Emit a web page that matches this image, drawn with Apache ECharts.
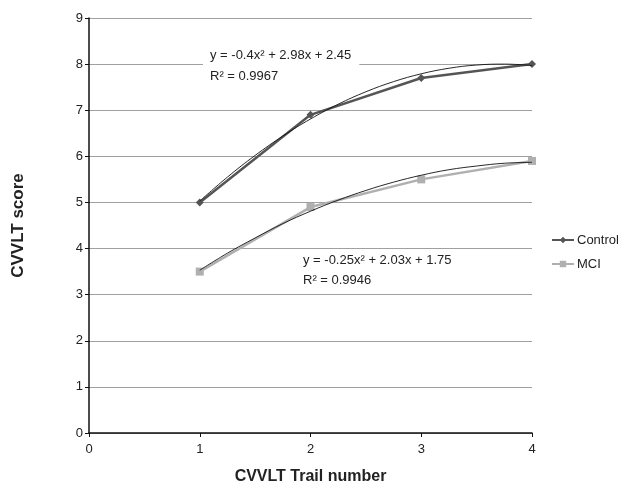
<!DOCTYPE html>
<html>
<head>
<meta charset="utf-8">
<script src="https://cdn.jsdelivr.net/npm/echarts@6/dist/echarts.min.js"></script>
<style>
html, body { margin: 0; padding: 0; background: #fff; }
#chart { width: 623px; height: 487px; }
</style>
</head>
<body>
<div id="chart"></div>
<script>
// measured points
const trials = [1, 2, 3, 4]
const controlScores = [5, 6.9, 7.7, 8]
const mciScores = [3.5, 4.9, 5.5, 5.9]

// trendline (thin black curves)
const trendX = [1, 1.25, 1.5, 1.75, 2, 2.25, 2.5, 2.75, 3, 3.25, 3.5, 3.75, 4]
const controlTrend = [5.03, 5.55, 6.02, 6.44, 6.81, 7.13, 7.40, 7.62, 7.79, 7.91, 7.98, 8.00, 7.97]
const mciTrend = [3.53, 3.90, 4.23, 4.54, 4.81, 5.05, 5.26, 5.44, 5.59, 5.71, 5.79, 5.85, 5.87]

const xTicks = [0, 1, 2, 3, 4]
const yTicks = [0, 1, 2, 3, 4, 5, 6, 7, 8, 9]

const pairs = (xs, ys) => xs.map((x, i) => [x, ys[i]])

const chart = echarts.init(document.getElementById('chart'))

const font = 'Liberation Sans, Arial, sans-serif'

const option = {
    animation: false,
    textStyle: { fontFamily: font },
    grid: { left: 89, right: 91, top: 18, bottom: 54, outerBoundsMode: 'none', containLabel: false },
    legend: {
        data: ['Control', 'MCI'],
        orient: 'vertical',
        left: 546,
        top: 227,
        itemWidth: 22,
        itemHeight: 8,
        itemGap: 8,
        itemStyle: { borderWidth: 0 },
        textStyle: { fontFamily: font, fontSize: 13, lineHeight: 16, color: '#222', padding: [0, 0, 0, -2] }
    },
    xAxis: {
        type: 'value',
        min: xTicks[0],
        max: xTicks[xTicks.length - 1],
        interval: 1,
        name: 'CVVLT Trail number',
        nameLocation: 'middle',
        nameGap: 36,
        nameTextStyle: { fontFamily: font, fontSize: 16, fontWeight: 'bold', color: '#222' },
        axisLine: { lineStyle: { color: '#111', width: 1.5 } },
        axisTick: { show: true, length: 4, lineStyle: { color: '#111' } },
        axisLabel: { fontSize: 13, color: '#222', margin: 10 },
        splitLine: { show: false }
    },
    yAxis: {
        type: 'value',
        min: yTicks[0],
        max: yTicks[yTicks.length - 1],
        interval: 1,
        name: 'CVVLT score',
        nameLocation: 'middle',
        nameGap: 62,
        nameRotate: 90,
        nameTextStyle: { fontFamily: font, fontSize: 17, fontWeight: 'bold', color: '#222' },
        axisLine: { show: true, lineStyle: { color: '#111', width: 1.5 } },
        axisTick: { show: true, length: 4, lineStyle: { color: '#111' } },
        axisLabel: { fontSize: 13, color: '#222', margin: 6 },
        splitLine: { lineStyle: { color: '#a0a0a0', width: 1 } }
    },
    series: [
        {
            name: 'Control',
            type: 'line',
            data: pairs(trials, controlScores),
            symbol: 'diamond',
            symbolSize: 8,
            lineStyle: { color: '#555', width: 2.5 },
            itemStyle: { color: '#555' },
            z: 3
        },
        {
            name: 'MCI',
            type: 'line',
            data: pairs(trials, mciScores),
            symbol: 'rect',
            symbolSize: 8,
            lineStyle: { color: '#b0b0b0', width: 2.5 },
            itemStyle: { color: '#b0b0b0' },
            z: 3
        },
        {
            name: 'Control trend',
            type: 'line',
            data: pairs(trendX, controlTrend),
            smooth: 0.4,
            symbol: 'none',
            lineStyle: { color: '#111', width: 0.9 },
            z: 4
        },
        {
            name: 'MCI trend',
            type: 'line',
            data: pairs(trendX, mciTrend),
            smooth: 0.4,
            symbol: 'none',
            lineStyle: { color: '#111', width: 0.9 },
            z: 4
        }
    ],
    graphic: [
        {
            type: 'text',
            left: 203,
            top: 45,
            z: 10,
            style: {
                text: 'y = -0.4x² + 2.98x + 2.45\nR² = 0.9967',
                fontFamily: font,
                fontSize: 13,
                fill: '#222',
                lineHeight: 21,
                backgroundColor: '#fff',
                padding: [0, 8, 0, 7]
            }
        },
        {
            type: 'text',
            left: 303,
            top: 250,
            z: 10,
            style: {
                text: 'y = -0.25x² + 2.03x + 1.75\nR² = 0.9946',
                fontFamily: font,
                fontSize: 13,
                fill: '#222',
                lineHeight: 20
            }
        }
    ]
}

chart.setOption(option)
</script>
</body>
</html>
